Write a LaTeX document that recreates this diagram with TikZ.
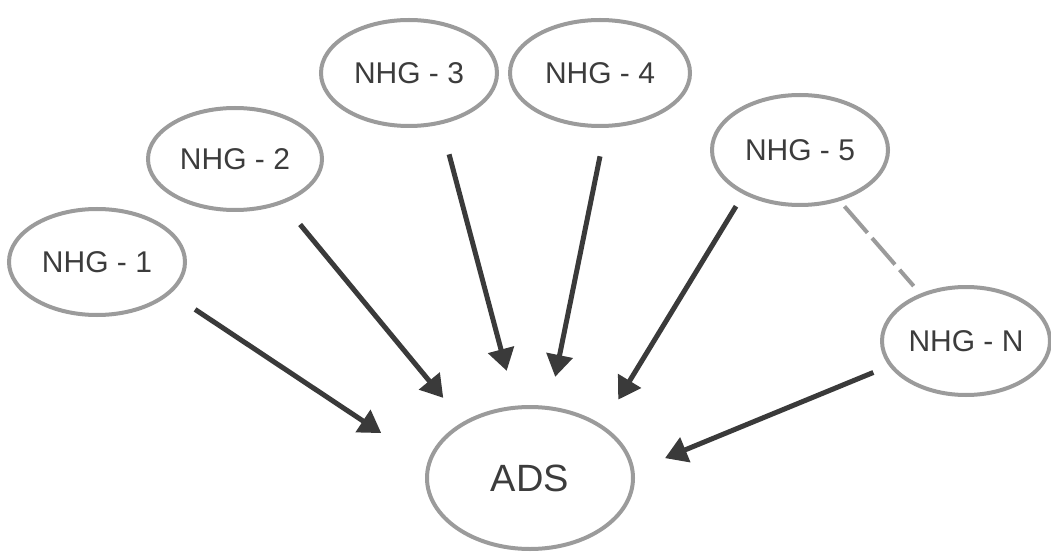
\documentclass[tikz,border=0pt]{standalone}
\usepackage{fontspec}
\setmainfont{Liberation Sans}
\usetikzlibrary{shapes.geometric,arrows.meta}
\definecolor{rimgray}{HTML}{9B9B9B}
\definecolor{arrowgray}{HTML}{3A3A3A}
\definecolor{textgray}{HTML}{3C3C3C}

\begin{document}
\begin{tikzpicture}
	[	x=1pt,y=-1pt,
	group/.style={ellipse,draw=rimgray,line width=4pt,inner sep=0pt,text=textgray,
		font=\fontsize{30}{36}\selectfont,minimum width=176pt,minimum height=106pt},
	sink/.style={group,font=\fontsize{38}{44}\selectfont,minimum width=206pt,minimum height=142pt},
	feed/.style={draw=arrowgray,line width=5pt,-{Triangle[length=22pt,width=26pt]}},
	link/.style={draw=rimgray,line width=4pt,dash pattern=on 35pt off 7pt}
	]
	\useasboundingbox (0,0) rectangle (1051,553);

	\node[group] (nhg1) at (97,262){NHG - 1};
	\node[group,minimum width=174pt,minimum height=102pt] (nhg2) at (235,159){NHG - 2};
	\node[group] (nhg3) at (409,73){NHG - 3};
	\node[group,minimum width=180pt] (nhg4) at (600,73){NHG - 4};
	\node[group,minimum height=110pt] (nhg5) at (800,150){NHG - 5};
	\node[group,minimum width=168pt,minimum height=108pt] (nhgn) at (966,341){NHG - N};
	\node[sink] (ads) at (530,478){ADS};

	\draw[feed,shorten <=29pt,shorten >=55pt] (nhg1.-23) -- (ads.172);
	\draw[feed,shorten <=27pt,shorten >=31pt] (nhg2.-43) -- (ads.140);
	\draw[feed,shorten <=31pt,shorten >=36pt] (nhg3.-58) -- (ads.101);
	\draw[feed,shorten <=29pt,shorten >=30pt] (nhg4.-84) -- (ads.75);
	\draw[feed,shorten <=14pt,shorten >=30pt] (nhg5.-142) -- (ads.36);
	\draw[feed,shorten <=17pt,shorten >=33pt] (nhgn.-162) -- (ads.4);
	\draw[link,shorten <=7pt,shorten >=10pt] (nhg5.-52) -- (nhgn.134);
\end{tikzpicture}
\end{document}
